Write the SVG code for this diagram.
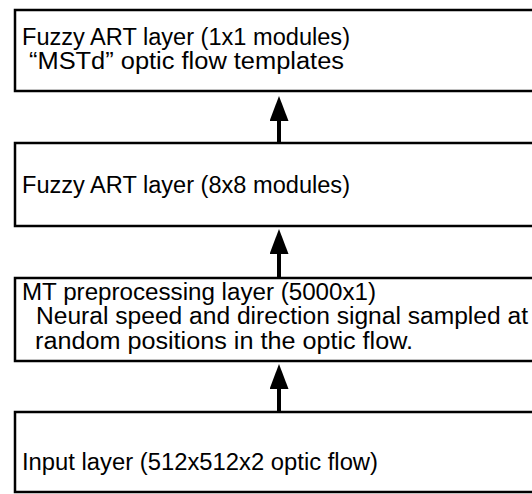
<svg xmlns="http://www.w3.org/2000/svg" width="532" height="494" viewBox="0 0 532 494">
<defs>
<style>
.box{fill:#fff;stroke:#000;stroke-width:2.5}
.t{font-family:"Liberation Sans",Arial,Helvetica,sans-serif;font-size:23.5px;fill:#000}
.c{stroke:#000;stroke-width:4;fill:none}
</style>
<marker id="ah" markerUnits="userSpaceOnUse" markerWidth="25" markerHeight="19" refX="1" refY="9.5" orient="auto" viewBox="0 0 25 19">
<path d="M0,0 L25,9.5 L0,19 Z" fill="#000"/>
</marker>
</defs>
<rect width="532" height="494" fill="#fff"/>
<g id="node-fuzzy1x1">
<rect class="box" x="15" y="10" width="540" height="81"/>
<text class="t" x="22" y="45" textLength="328" lengthAdjust="spacingAndGlyphs">Fuzzy ART layer (1x1 modules)</text>
<text class="t" x="29" y="69" textLength="315" lengthAdjust="spacingAndGlyphs">“MSTd” optic flow templates</text>
</g>
<g id="node-fuzzy8x8">
<rect class="box" x="15" y="143" width="540" height="83"/>
<text class="t" x="22" y="193" textLength="328" lengthAdjust="spacingAndGlyphs">Fuzzy ART layer (8x8 modules)</text>
</g>
<g id="node-mt">
<rect class="box" x="15" y="278" width="540" height="83"/>
<text class="t" x="22" y="300" textLength="354" lengthAdjust="spacingAndGlyphs">MT preprocessing layer (5000x1)</text>
<text class="t" x="36" y="324" textLength="492" lengthAdjust="spacingAndGlyphs">Neural speed and direction signal sampled at</text>
<text class="t" x="35" y="349" textLength="378" lengthAdjust="spacingAndGlyphs">random positions in the optic flow.</text>
</g>
<g id="node-input">
<rect class="box" x="15" y="412" width="540" height="80"/>
<text class="t" x="22" y="470" textLength="356" lengthAdjust="spacingAndGlyphs">Input layer (512x512x2 optic flow)</text>
</g>
<g id="connectors">
<line class="c" x1="279" y1="142" x2="279" y2="120" marker-end="url(#ah)"/>
<line class="c" x1="279" y1="277" x2="279" y2="253" marker-end="url(#ah)"/>
<line class="c" x1="279" y1="411" x2="279" y2="388" marker-end="url(#ah)"/>
</g>
</svg>
